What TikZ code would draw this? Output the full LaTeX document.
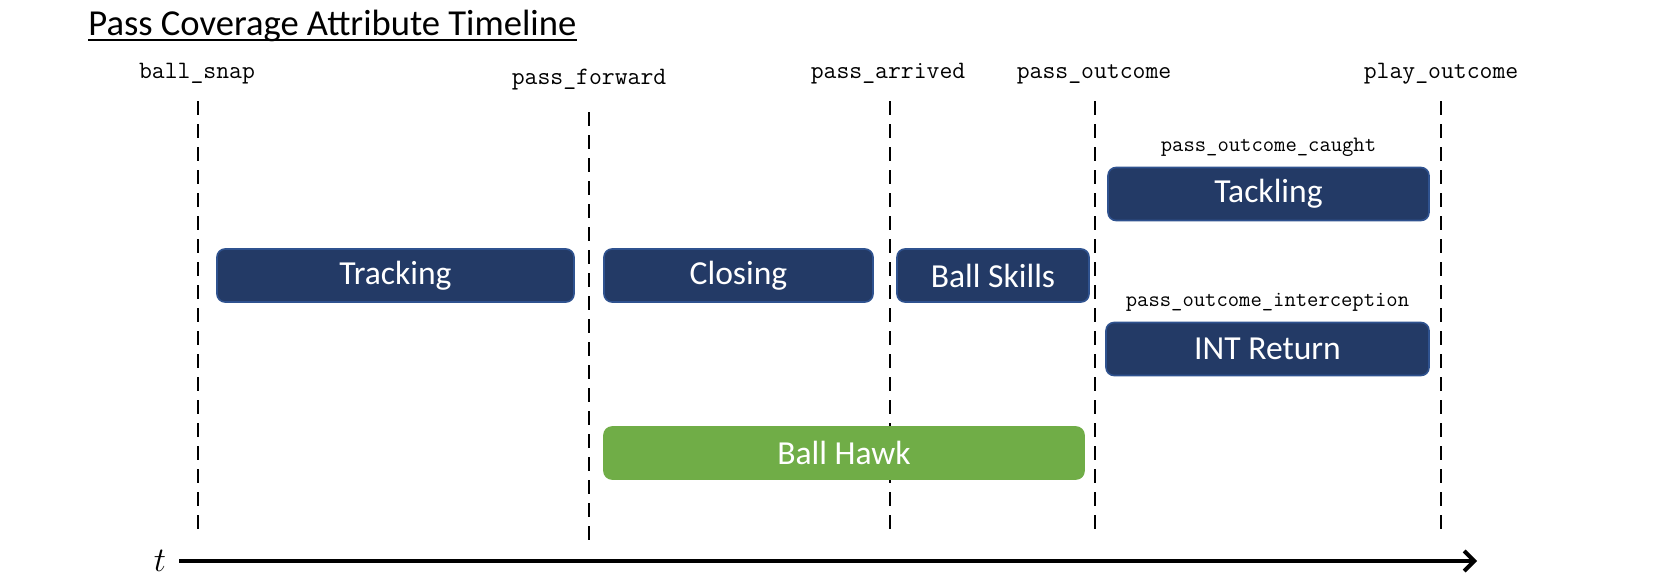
\documentclass[tikz,border=0pt]{standalone}
\usepackage{fontspec}
\newfontfamily\calib{Carlito}
\definecolor{NavyBox}{HTML}{233A66}
\definecolor{BoxEdge}{HTML}{2F528F}
\definecolor{HawkGreen}{HTML}{70AD47}
\usepackage{tikz}
\usetikzlibrary{positioning, arrows.meta}

\begin{document}
\begin{tikzpicture}[
  x=0.5pt, y=-0.5pt,
  evt/.style={font=\ttfamily\fontsize{12.5}{14}\selectfont, inner sep=1pt},
  sub/.style={font=\ttfamily\fontsize{11}{13}\selectfont, inner sep=1pt},
  attr/.style={draw=BoxEdge, fill=NavyBox, line width=0.8pt, rounded corners=4pt,
    text=white, font=\calib\fontsize{16.8}{18}\selectfont, minimum height=26.5pt, inner sep=0pt},
  tline/.style={line width=1.2pt, dash pattern=on 7pt off 4.5pt},
]
  \useasboundingbox (0,0) rectangle (1668,584);
  \node[anchor=west, font=\calib\fontsize{18.3}{20}\selectfont, inner sep=0pt] (title) at (88,26)
    {Pass Coverage Attribute Timeline};
  \draw[line width=1pt] ([yshift=1.2pt]title.south west) -- ([yshift=1.2pt]title.south east);
  % Event labels
  \node[evt] (snap) at (197,74) {ball\_snap};
  \node[evt] (fwd) at (589,80) {pass\_forward};
  \node[evt] (arr) at (888,74) {pass\_arrived};
  \node[evt] (outc) at (1094,74) {pass\_outcome};
  \node[evt] (play) at (1441,74) {play\_outcome};
  % Event lines
  \draw[tline] (198,101) coordinate (snapT) -- (198,532) coordinate (snapB);
  \draw[tline] (589,112) coordinate (fwdT) -- (589,543) coordinate (fwdB);
  \draw[tline] (890,101) coordinate (arrT) -- (890,532) coordinate (arrB);
  \draw[tline] (1095,101) coordinate (outcT) -- (1095,532) coordinate (outcB);
  \draw[tline] (1441,101) coordinate (playT) -- (1441,532) coordinate (playB);
  % Attributes
  \node[attr, minimum width=178.5pt] (Track) at (395.5,275.5) {Tracking};
  \node[attr, minimum width=134.5pt] (Close) at (738.5,275.5) {Closing};
  \node[attr, minimum width=96pt] (Skill) at (993,275.5) {Ball Skills};
  \node[attr, minimum width=160.5pt] (Tackle) at (1268.5,194) {Tackling};
  \node[attr, minimum width=161.5pt] (IntRet) at (1267.5,349) {INT Return};
  \node[attr, draw=HawkGreen, fill=HawkGreen, minimum width=240pt, minimum height=26pt] (Hawk) at (844,453) {Ball Hawk};
  \node[sub, above=4pt of Tackle] (caught) {pass\_outcome\_caught};
  \node[sub, above=4pt of IntRet] (intc) {pass\_outcome\_interception};
  % Time axis
  \node[font=\fontsize{17}{18}\selectfont, inner sep=0pt] (t) at (160,561) {$t$};
  \coordinate (tEnd) at (1477,561);
  \draw[line width=2pt, -{Straight Barb[length=5pt, width=10pt]}] (179,561) coordinate (tStart) -- (tEnd);
\end{tikzpicture}
\end{document}
